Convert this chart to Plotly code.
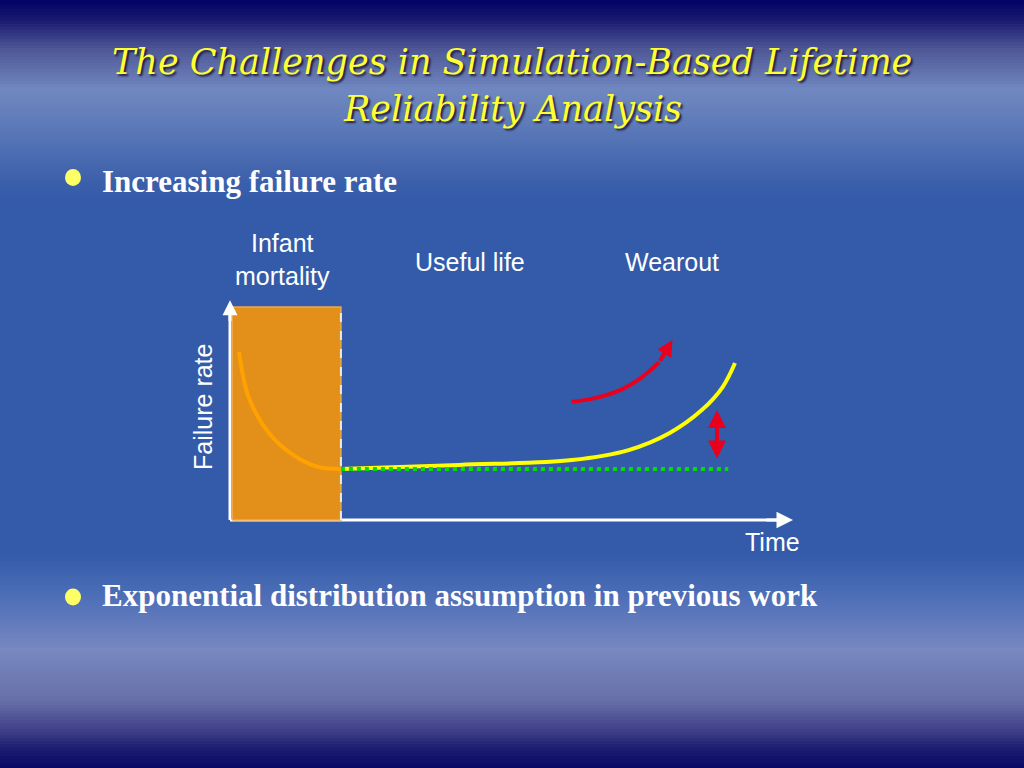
import plotly.graph_objects as go

# ---------------- data ----------------
infant_time = [0.16, 0.33, 0.69, 1.12, 1.56, 1.97]
infant_rate = [7.57, 5.54, 3.92, 2.93, 2.39, 2.30]

life_time = [1.97, 4.07, 6.07, 7.08, 7.81, 8.38, 8.75, 8.97]
life_rate = [2.30, 2.48, 2.70, 3.15, 3.92, 4.95, 5.99, 7.07]

const_time = [1.97, 8.85]
const_rate = [2.30, 2.30]

trend_time = [6.07, 6.50, 6.94, 7.30, 7.62]
trend_rate = [5.32, 5.50, 5.86, 6.40, 7.10]
trend_tip = (7.86, 8.11)

gap_time = 8.65
gap_rate = [2.70, 4.95]

shade_start = 0.04
infant_end = 1.97
shade_top = 9.6
axis_x_end = 10.0
axis_y_end = 9.9

phase_labels = ["Infant<br>mortality", "Useful life", "Wearout"]
phase_label_time = [0.94, 4.27, 7.85]
phase_label_rate = [11.75, 11.62, 11.62]

title_lines = ["The Challenges in Simulation-Based Lifetime", "Reliability Analysis"]
bullets = ["Increasing failure rate", "Exponential distribution assumption in previous work"]

W, H = 1024, 768


def px(x):
    return x / W


def py(y):
    return (H - y) / H


# axis placement: data 0 at pixel (230, 520); 56.4 px per time unit, 22.2 px per rate unit
X_RANGE = [-1.5, 10.8]
Y_RANGE = [-2.5, 13.5]
ORIGIN_X, ORIGIN_Y, SX, SY = 230, 520, 56.3, 22.2
x_domain = [px(ORIGIN_X + X_RANGE[0] * SX), px(ORIGIN_X + X_RANGE[1] * SX)]
y_domain = [py(ORIGIN_Y - Y_RANGE[0] * SY), py(ORIGIN_Y - Y_RANGE[1] * SY)]

fig = go.Figure()

# ---------------- background gradient ----------------
stops = [
    (0, (0, 0, 102)), (20, (26, 26, 112)), (50, (80, 88, 152)), (90, (112, 136, 192)),
    (130, (90, 120, 184)), (185, (58, 94, 170)), (205, (51, 91, 169)), (555, (51, 91, 169)),
    (600, (80, 112, 184)), (650, (120, 136, 192)), (700, (104, 112, 168)), (730, (64, 64, 136)),
    (750, (26, 26, 112)), (768, (10, 10, 102)),
]


def col_at(y):
    for (y0, c0), (y1, c1) in zip(stops[:-1], stops[1:]):
        if y0 <= y <= y1:
            t = (y - y0) / (y1 - y0) if y1 > y0 else 0
            return "rgb(%d,%d,%d)" % tuple(round(a + (b - a) * t) for a, b in zip(c0, c1))
    return "rgb(10,10,102)"


shapes = []
step = 3
for y in range(0, H, step):
    shapes.append(dict(type="rect", xref="paper", yref="paper", x0=0, x1=1,
                       y0=py(y + step + 0.5), y1=py(y), fillcolor=col_at(y + step / 2),
                       line=dict(width=0), layer="below"))

# bullets
for yc in (177.5, 597):
    shapes.append(dict(type="circle", xref="paper", yref="paper",
                       x0=px(65), x1=px(81), y0=py(yc + 8.5), y1=py(yc - 8.5),
                       fillcolor="#ffff66", line=dict(width=0), layer="above"))

# ---------------- chart traces ----------------
fig.add_trace(go.Scatter(x=[0, axis_x_end - 0.2], y=[0, 0], mode="lines",
                         line=dict(color="white", width=3), hoverinfo="skip"))
fig.add_trace(go.Scatter(x=[0, 0], y=[0, axis_y_end - 0.4], mode="lines",
                         line=dict(color="white", width=3), hoverinfo="skip"))
fig.add_trace(go.Scatter(x=[shade_start, infant_end, infant_end, shade_start, shade_start],
                         y=[0, 0, shade_top, shade_top, 0],
                         mode="lines", fill="toself", fillcolor="#e3901a",
                         line=dict(color="#eea850", width=1.5), hoverinfo="skip"))
fig.add_trace(go.Scatter(x=[infant_end, infant_end], y=[0, shade_top], mode="lines",
                         line=dict(color="#f4ead8", width=2, dash="dash"), hoverinfo="skip"))
fig.add_trace(go.Scatter(x=infant_time, y=infant_rate, mode="lines", line_shape="spline",
                         line=dict(color="#ffa200", width=4), hoverinfo="skip"))
fig.add_trace(go.Scatter(x=life_time, y=life_rate, mode="lines", line_shape="spline",
                         line=dict(color="#ffff00", width=4), hoverinfo="skip"))
fig.add_trace(go.Scatter(x=const_time, y=const_rate, mode="lines",
                         line=dict(color="#00e000", width=4, dash="dot"), hoverinfo="skip"))
fig.add_trace(go.Scatter(x=trend_time, y=trend_rate, mode="lines", line_shape="spline",
                         line=dict(color="#e8001c", width=4), hoverinfo="skip"))

annotations = []
annotations.append(dict(x=axis_x_end, y=0, ax=axis_x_end - 0.5, ay=0, xref="x", yref="y",
                        axref="x", ayref="y", text="", showarrow=True, arrowhead=2,
                        arrowsize=1.1, arrowwidth=3, arrowcolor="white"))
annotations.append(dict(x=0, y=axis_y_end, ax=0, ay=axis_y_end - 1.0, xref="x", yref="y",
                        axref="x", ayref="y", text="", showarrow=True, arrowhead=2,
                        arrowsize=1.0, arrowwidth=3, arrowcolor="white"))
annotations.append(dict(x=trend_tip[0], y=trend_tip[1], ax=trend_time[-1], ay=trend_rate[-1],
                        xref="x", yref="y", axref="x", ayref="y", text="", showarrow=True,
                        arrowhead=2, arrowsize=0.8, arrowwidth=4, arrowcolor="#e8001c"))
annotations.append(dict(x=gap_time, y=gap_rate[1], ax=gap_time, ay=gap_rate[0],
                        xref="x", yref="y", axref="x", ayref="y", text="", showarrow=True,
                        arrowhead=2, startarrowhead=2, arrowside="end+start", arrowsize=0.9,
                        startarrowsize=0.9, arrowwidth=4, arrowcolor="#e8001c"))

label_font = dict(family="Liberation Sans, Arial", size=25, color="white")
for t, xx, yy in zip(phase_labels, phase_label_time, phase_label_rate):
    annotations.append(dict(x=xx, y=yy, xref="x", yref="y", text=t, showarrow=False,
                            font=label_font, xanchor="center", yanchor="middle"))
annotations.append(dict(x=9.63, y=-0.99, xref="x", yref="y", text="Time", showarrow=False,
                        font=label_font, xanchor="center", yanchor="middle"))
annotations.append(dict(x=-0.48, y=5.09, xref="x", yref="y", text="Failure rate", showarrow=False,
                        font=label_font, textangle=-90, xanchor="center", yanchor="middle"))

title_font = dict(family="DejaVu Serif", size=35, color="#ffff33", style="italic",
                  shadow="2px 2px 2px #202040")
for line, yc in zip(title_lines, (62, 109)):
    annotations.append(dict(x=0.5, y=py(yc), xref="paper", yref="paper", text=line,
                            showarrow=False, font=title_font, xanchor="center", yanchor="middle"))

bullet_font = dict(family="Liberation Serif, Times New Roman", size=31, color="white", weight="bold")
for b, yc in zip(bullets, (181, 595)):
    annotations.append(dict(x=px(100), y=py(yc), xref="paper", yref="paper", text=b,
                            showarrow=False, font=bullet_font, xanchor="left", yanchor="middle"))

fig.update_layout(
    width=W, height=H, margin=dict(l=0, r=0, t=0, b=0),
    paper_bgcolor="#335ba9", plot_bgcolor="rgba(0,0,0,0)",
    showlegend=False, shapes=shapes, annotations=annotations,
    xaxis=dict(domain=x_domain, range=X_RANGE, visible=False, fixedrange=True),
    yaxis=dict(domain=y_domain, range=Y_RANGE, visible=False, fixedrange=True),
)

fig.write_html("out.html", config={"displayModeBar": False},
               post_script="document.body.style.margin='0';document.body.style.overflow='hidden';")
